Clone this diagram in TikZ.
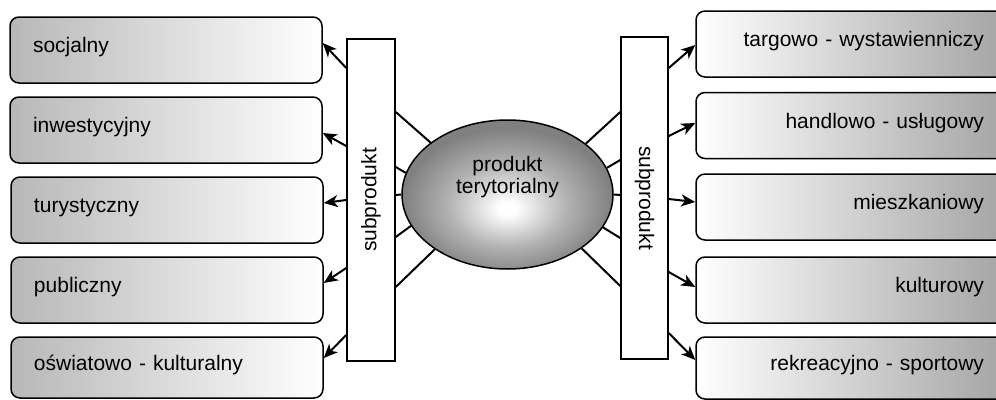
\documentclass[tikz,border=0pt]{standalone}
\usepackage{fontspec}
\setmainfont{Liberation Sans}
\usetikzlibrary{arrows.meta,shapes.geometric,calc}
\pgfdeclareradialshading{ellsh}{\pgfpoint{0bp}{-5bp}}{color(0bp)=(white); color(2bp)=(white); color(14bp)=(black!30); color(25bp)=(black!50); color(50bp)=(black!50)}
\tikzset{
  lbox/.style={draw, line width=1.5pt, rounded corners=9pt, left color=black!28, right color=white,
    minimum height=66pt, text width=266pt, inner xsep=23pt, align=left, text height=15pt, text depth=10pt},
  rbox/.style={draw, line width=1.5pt, rounded corners=9pt, left color=white, right color=black!36,
    minimum height=66pt, text width=262pt, inner xsep=26pt, align=right, text height=15pt, text depth=10pt},
  subbox/.style={draw, line width=1.5pt, fill=white, minimum width=48pt, minimum height=322pt, inner sep=0pt},
  conn/.style={draw, line width=2pt},
  arr/.style={draw, line width=2pt, arrows={-Stealth[length=14pt, width=12pt, inset=4pt]}}
}
\begin{document}
\begin{tikzpicture}[x=1pt,y=-1pt, every node/.style={font=\fontsize{21}{22}\selectfont}]
\useasboundingbox (0,0) rectangle (996,399);
% left boxes
\node[lbox] (l1) at (166,50) {socjalny};
\node[lbox] (l2) at (166,130) {inwestycyjny};
\node[lbox] (l3) at (167,210) {turystyczny};
\node[lbox] (l4) at (167,290) {publiczny};
\node[lbox, minimum height=61pt] (l5) at (167,367.5) {oświatowo - kulturalny};
% right boxes
\node[rbox] (r1) at (853,44) {targowo - wystawienniczy};
\node[rbox] (r2) at (853,125.5) {handlowo - usługowy};
\node[rbox] (r3) at (853,207) {mieszkaniowy};
\node[rbox] (r4) at (853,290) {kulturowy};
\node[rbox, minimum height=62pt] (r5) at (853,368) {rekreacyjno - sportowy};
% sub-product bars
\node[subbox] (ls) at (371,200) {\rotatebox{90}{subprodukt}};
\node[subbox, minimum width=47pt] (rs) at (644.5,198) {\rotatebox{-90}{subprodukt}};
% central ellipse
\node[ellipse, draw, line width=1.5pt, shading=ellsh, minimum width=211pt, minimum height=149pt, inner sep=0pt] (E) at (507.5,194.5) {};
\node[align=center] (Et) at (507.5,177) {produkt\\terytorialny};
% lines bar -> ellipse
\path[conn] (ls.east |- 0,112) -- (E.146.4);
\path[conn] (ls.east |- 0,167) -- (E.168.5);
\path[conn] (ls.east |- 0,195) -- (E.180);
\path[conn] (ls.east |- 0,237) -- (E.198.8);
\path[conn] (ls.east |- 0,287) -- (E.217.4);
\path[conn] (rs.west |- 0,112) -- (E.33.3);
\path[conn] (rs.west |- 0,160) -- (E.15.8);
\path[conn] (rs.west |- 0,195) -- (E.0);
\path[conn] (rs.west |- 0,238) -- (E.341.6);
\path[conn] (rs.west |- 0,286) -- (E.324.7);
% arrows to left boxes
\path[arr] (ls.west |- 0,68) -- (l1.east |- 0,43);
\path[arr] (ls.west |- 0,146) -- (l2.east |- 0,133);
\path[arr] (ls.west |- 0,200) -- (l3.east |- 0,203);
\path[arr] (ls.west |- 0,268) -- (l4.east |- 0,283);
\path[arr] (ls.west |- 0,335) -- (l5.east |- 0,358);
% arrows to right boxes
\path[arr] (rs.east |- 0,68) -- (r1.west |- 0,45);
\path[arr] (rs.east |- 0,136) -- (r2.west |- 0,123);
\path[arr] (rs.east |- 0,199) -- (r3.west |- 0,202);
\path[arr] (rs.east |- 0,272) -- (r4.west |- 0,287);
\path[arr] (rs.east |- 0,333) -- (r5.west |- 0,360);
\end{tikzpicture}
\end{document}
